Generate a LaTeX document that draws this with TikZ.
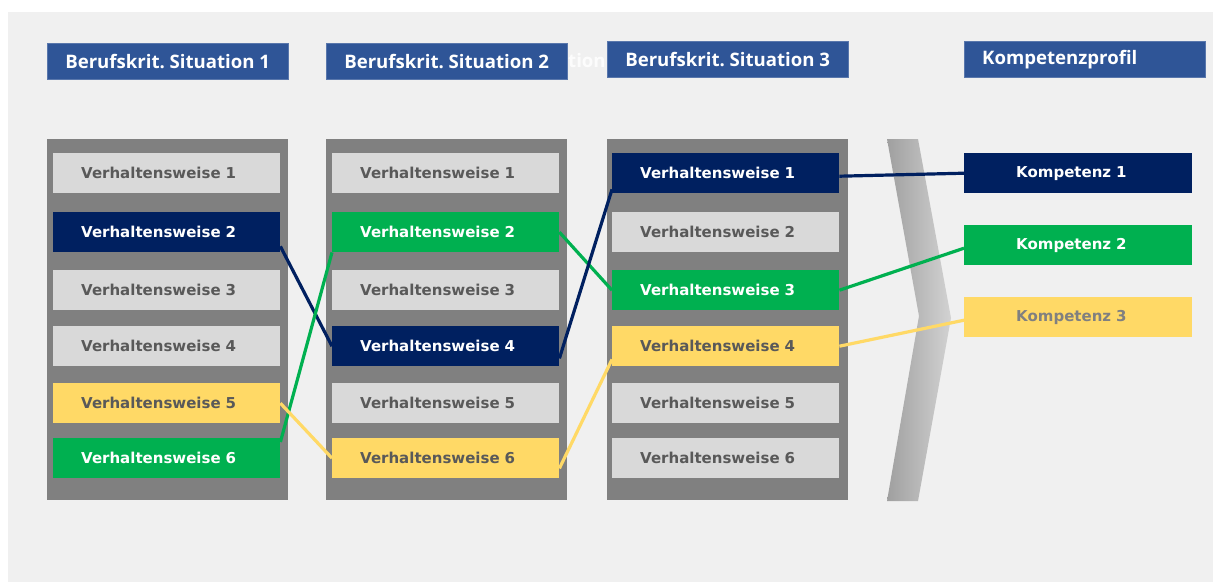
\documentclass[tikz,border=0pt]{standalone}
\usepackage{fontspec}
\newfontfamily\headfont{Open Sans}
\newfontfamily\boxfont{DejaVu Sans}
\usetikzlibrary{positioning}
\definecolor{bggrey}{HTML}{F0F0F0}
\definecolor{headblue}{HTML}{2F5597}
\definecolor{panelgrey}{HTML}{808080}
\definecolor{boxgrey}{HTML}{D9D9D9}
\definecolor{txtgrey}{HTML}{595959}
\definecolor{navy}{HTML}{002060}
\definecolor{kgreen}{HTML}{00B050}
\definecolor{kyellow}{HTML}{FFD966}
\frenchspacing

\begin{document}
\begin{tikzpicture}[x=1pt, y=-1pt,
    head/.style={fill=headblue, draw=headblue!80!white, text=white, anchor=north west,
        minimum height=36pt, minimum width=241pt, inner ysep=0pt, inner xsep=8pt,
        font=\headfont\bfseries\fontsize{18.6}{20}\selectfont},
    vbox/.style={anchor=north west, minimum height=40pt, inner ysep=0pt, inner xsep=28pt,
        text width=171pt, align=left, font=\boxfont\bfseries\fontsize{15}{17}\selectfont},
    vgrey/.style={vbox, fill=boxgrey, text=txtgrey},
    vnavy/.style={vbox, fill=navy, text=white},
    vgreen/.style={vbox, fill=kgreen, text=white},
    vyellow/.style={vbox, fill=kyellow, text=txtgrey},
    kbox/.style={vbox, inner xsep=52pt, text width=124pt},
    link/.style={line width=3.2pt}]
    \useasboundingbox (0,0) rectangle (1213,582);
    \fill[white] (0,0) rectangle (1213,582);
    \fill[bggrey] (8,12) rectangle (1213,582);

    % chevron
    \shade[left color=gray!75, right color=gray!35]
        (887,139) -- (918,139) -- (951,318) -- (918,501) -- (887,501) -- (919,316) -- cycle;

    % headers
    \node[anchor=west, inner sep=0pt, text=white, opacity=0.85,
        font=\headfont\bfseries\fontsize{18.6}{20}\selectfont] (ghost) at (568,61) {tion};
    \node[head] (h1) at (47,43) {Berufskrit. Situation 1};
    \node[head] (h2) at (326,43) {Berufskrit. Situation 2};
    \node[head] (h3) at (607,41) {Berufskrit. Situation 3};
    \node[head, text width=205pt, inner xsep=18pt, align=left] (h4) at (964,41) {Kompetenzprofil};

    % panels
    \foreach \x in {47, 326, 607}
        \fill[panelgrey] (\x,139) rectangle +(241,361);

    % behaviours
    \foreach \r/\y/\s in {1/153/vgrey, 2/212/vnavy, 3/270/vgrey, 4/326/vgrey, 5/383/vyellow, 6/438/vgreen}
        \node[\s] (a\r) at (53,\y) {Verhaltensweise \r};
    \foreach \r/\y/\s in {1/153/vgrey, 2/212/vgreen, 3/270/vgrey, 4/326/vnavy, 5/383/vgrey, 6/438/vyellow}
        \node[\s] (b\r) at (332,\y) {Verhaltensweise \r};
    \foreach \r/\y/\s in {1/153/vnavy, 2/212/vgrey, 3/270/vgreen, 4/326/vyellow, 5/383/vgrey, 6/438/vgrey}
        \node[\s] (c\r) at (612,\y) {Verhaltensweise \r};

    % competences
    \node[kbox, fill=navy, text=white] (k1) at (964,153) {Kompetenz 1};
    \node[kbox, fill=kgreen, text=white] (k2) at (964,225) {Kompetenz 2};
    \node[kbox, fill=kyellow, text=gray] (k3) at (964,297) {Kompetenz 3};

    % links
    \draw[link, navy] ([yshift=6pt]a2.south east) -- (b4.west);
    \draw[link, kgreen] ([yshift=-4pt]a6.north east) -- (b2.south west);
    \draw[link, kyellow] (a5.east) -- (b6.west);
    \draw[link, kgreen] (b2.east) -- (c3.west);
    \draw[link, navy] ([yshift=8pt]b4.south east) -- ([yshift=4pt]c1.south west);
    \draw[link, kyellow] ([yshift=10pt]b6.south east) -- ([yshift=7pt]c4.south west);
    \draw[link, navy] ([yshift=-3pt]c1.east) -- (k1.west);
    \draw[link, kgreen] (c3.east) -- ([yshift=-3pt]k2.west);
    \draw[link, kyellow] (c4.east) -- ([yshift=-3pt]k3.west);
\end{tikzpicture}
\end{document}
